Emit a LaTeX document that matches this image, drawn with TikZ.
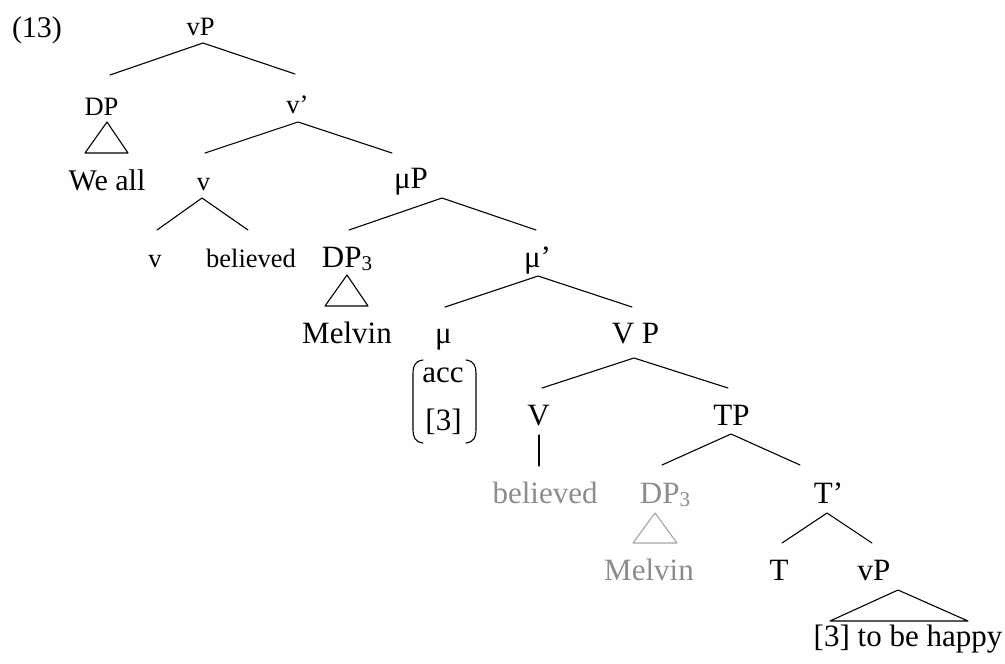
\documentclass[tikz,border=0pt]{standalone}
\usepackage{fontspec}
\setmainfont{Liberation Serif}
\definecolor{ghost}{RGB}{140,140,140}
\definecolor{ghostline}{RGB}{165,165,165}
\newcommand{\smlfont}{\fontsize{26.5}{30}\selectfont}
\newcommand{\bigfont}{\fontsize{31}{36}\selectfont}
\newcommand{\subthree}[1]{\raisebox{-3.5pt}{\fontsize{21}{24}\selectfont #1}}
\begin{document}
\begin{tikzpicture}[x=1pt,y=-1pt,
  lbl/.style={inner sep=0pt, anchor=base},
  s/.style={lbl, font=\smlfont},
  b/.style={lbl, font=\bigfont},
  g/.style={lbl, font=\bigfont, text=ghost},
  edge/.style={line width=1.1pt, line cap=round, line join=round},
  gedge/.style={edge, draw=ghostline}]
\useasboundingbox (0,0) rectangle (1005,664);
% labels
\node[lbl, font=\fontsize{30}{34}\selectfont] (ex) at (37,37) {(13)};
\node[s] (vP0) at (200.5,35) {vP};
\node[s] (DP0) at (101.5,115) {DP};
\node[s] (vbar) at (297.5,113) {v’};
\node[lbl, font=\fontsize{30}{34}\selectfont] (weall) at (107,190) {We all};
\node[s] (v1) at (203.5,190) {v};
\node[s] (v2) at (155,267) {v};
\node[s] (bel1) at (251,267) {believed};
\node[b] (DP3a) at (347,267) {DP\subthree{3}};
\node[b] (muP) at (411,188) {μP};
\node[b] (mel1) at (347,343) {Melvin};
\node[b] (mubar) at (537.5,267) {μ’};
\node[b] (mu) at (443.5,343) {μ};
\node[b] (acc) at (443,382) {acc};
\node[b] (three) at (443.5,430) {[3]};
\node[b] (VP) at (635.5,343) {V P};
\node[b] (V) at (538.5,425) {V};
\node[b] (TP) at (731.5,425) {TP};
\node[g] (bel2) at (545,503) {believed};
\node[g] (DP3b) at (665,503) {DP\subthree{3}};
\node[g] (mel2) at (649,580) {Melvin};
\node[b] (Tbar) at (828.5,503) {T’};
\node[b] (T) at (779,580) {T};
\node[b] (vP1) at (874,580) {vP};
\node[b] (happy) at (908,646) {[3] to be happy};
% connector end points
\coordinate (vP0-a) at (203,43);   \coordinate (DP0-t) at (110,75);  \coordinate (vbar-t) at (295,74);
\coordinate (vbar-a) at (298,122); \coordinate (v1-t) at (205,153);  \coordinate (muP-t) at (392,153);
\coordinate (v1-a) at (202,198);   \coordinate (v2-t) at (157,230);  \coordinate (bel1-t) at (248,230);
\coordinate (muP-a) at (442,198);  \coordinate (DP3a-t) at (349,230); \coordinate (mubar-t) at (536,230);
\coordinate (mubar-a) at (538,276); \coordinate (mu-t) at (445,307); \coordinate (VP-t) at (632,307);
\coordinate (VP-a) at (634,358);   \coordinate (V-t) at (542,388);   \coordinate (TP-t) at (728,388);
\coordinate (V-a) at (539,435);    \coordinate (bel2-t) at (539,466);
\coordinate (TP-a) at (731,434);   \coordinate (DP3b-t) at (662,465); \coordinate (Tbar-t) at (800,465);
\coordinate (Tbar-a) at (827,513); \coordinate (T-t) at (782,543);   \coordinate (vP1-t) at (872,543);
% branches
\draw[edge] (DP0-t) -- (vP0-a) -- (vbar-t);
\draw[edge] (v1-t) -- (vbar-a) -- (muP-t);
\draw[edge] (v2-t) -- (v1-a) -- (bel1-t);
\draw[edge] (DP3a-t) -- (muP-a) -- (mubar-t);
\draw[edge] (mu-t) -- (mubar-a) -- (VP-t);
\draw[edge] (V-t) -- (VP-a) -- (TP-t);
\draw[edge] (V-a) -- (bel2-t);
\draw[edge] (DP3b-t) -- (TP-a) -- (Tbar-t);
\draw[edge] (T-t) -- (Tbar-a) -- (vP1-t);
% triangles
\coordinate (tri1) at (107,122); \coordinate (tri1l) at (85,153); \coordinate (tri1r) at (128,153);
\coordinate (tri2) at (347,275); \coordinate (tri2l) at (325,306); \coordinate (tri2r) at (368,306);
\coordinate (tri3) at (655,513); \coordinate (tri3l) at (633,543); \coordinate (tri3r) at (677,543);
\coordinate (tri4) at (898,590); \coordinate (tri4l) at (830,621); \coordinate (tri4r) at (968,621);
\draw[edge] (tri1) -- (tri1l) -- (tri1r) -- cycle;
\draw[edge] (tri2) -- (tri2l) -- (tri2r) -- cycle;
\draw[gedge] (tri3) -- (tri3l) -- (tri3r) -- cycle;
\draw[edge] (tri4) -- (tri4l) -- (tri4r) -- cycle;
% feature brackets
\coordinate (brl1) at (423,360); \coordinate (brl2) at (423,443);
\coordinate (brr1) at (466,360); \coordinate (brr2) at (466,443);
\draw[edge] (brl1) .. controls (415,361) and (413,366) .. (413,373) -- (413,430) .. controls (413,437) and (415,442) .. (brl2);
\draw[edge] (brr1) .. controls (474,361) and (476,366) .. (476,373) -- (476,430) .. controls (476,437) and (474,442) .. (brr2);
\end{tikzpicture}
\end{document}
